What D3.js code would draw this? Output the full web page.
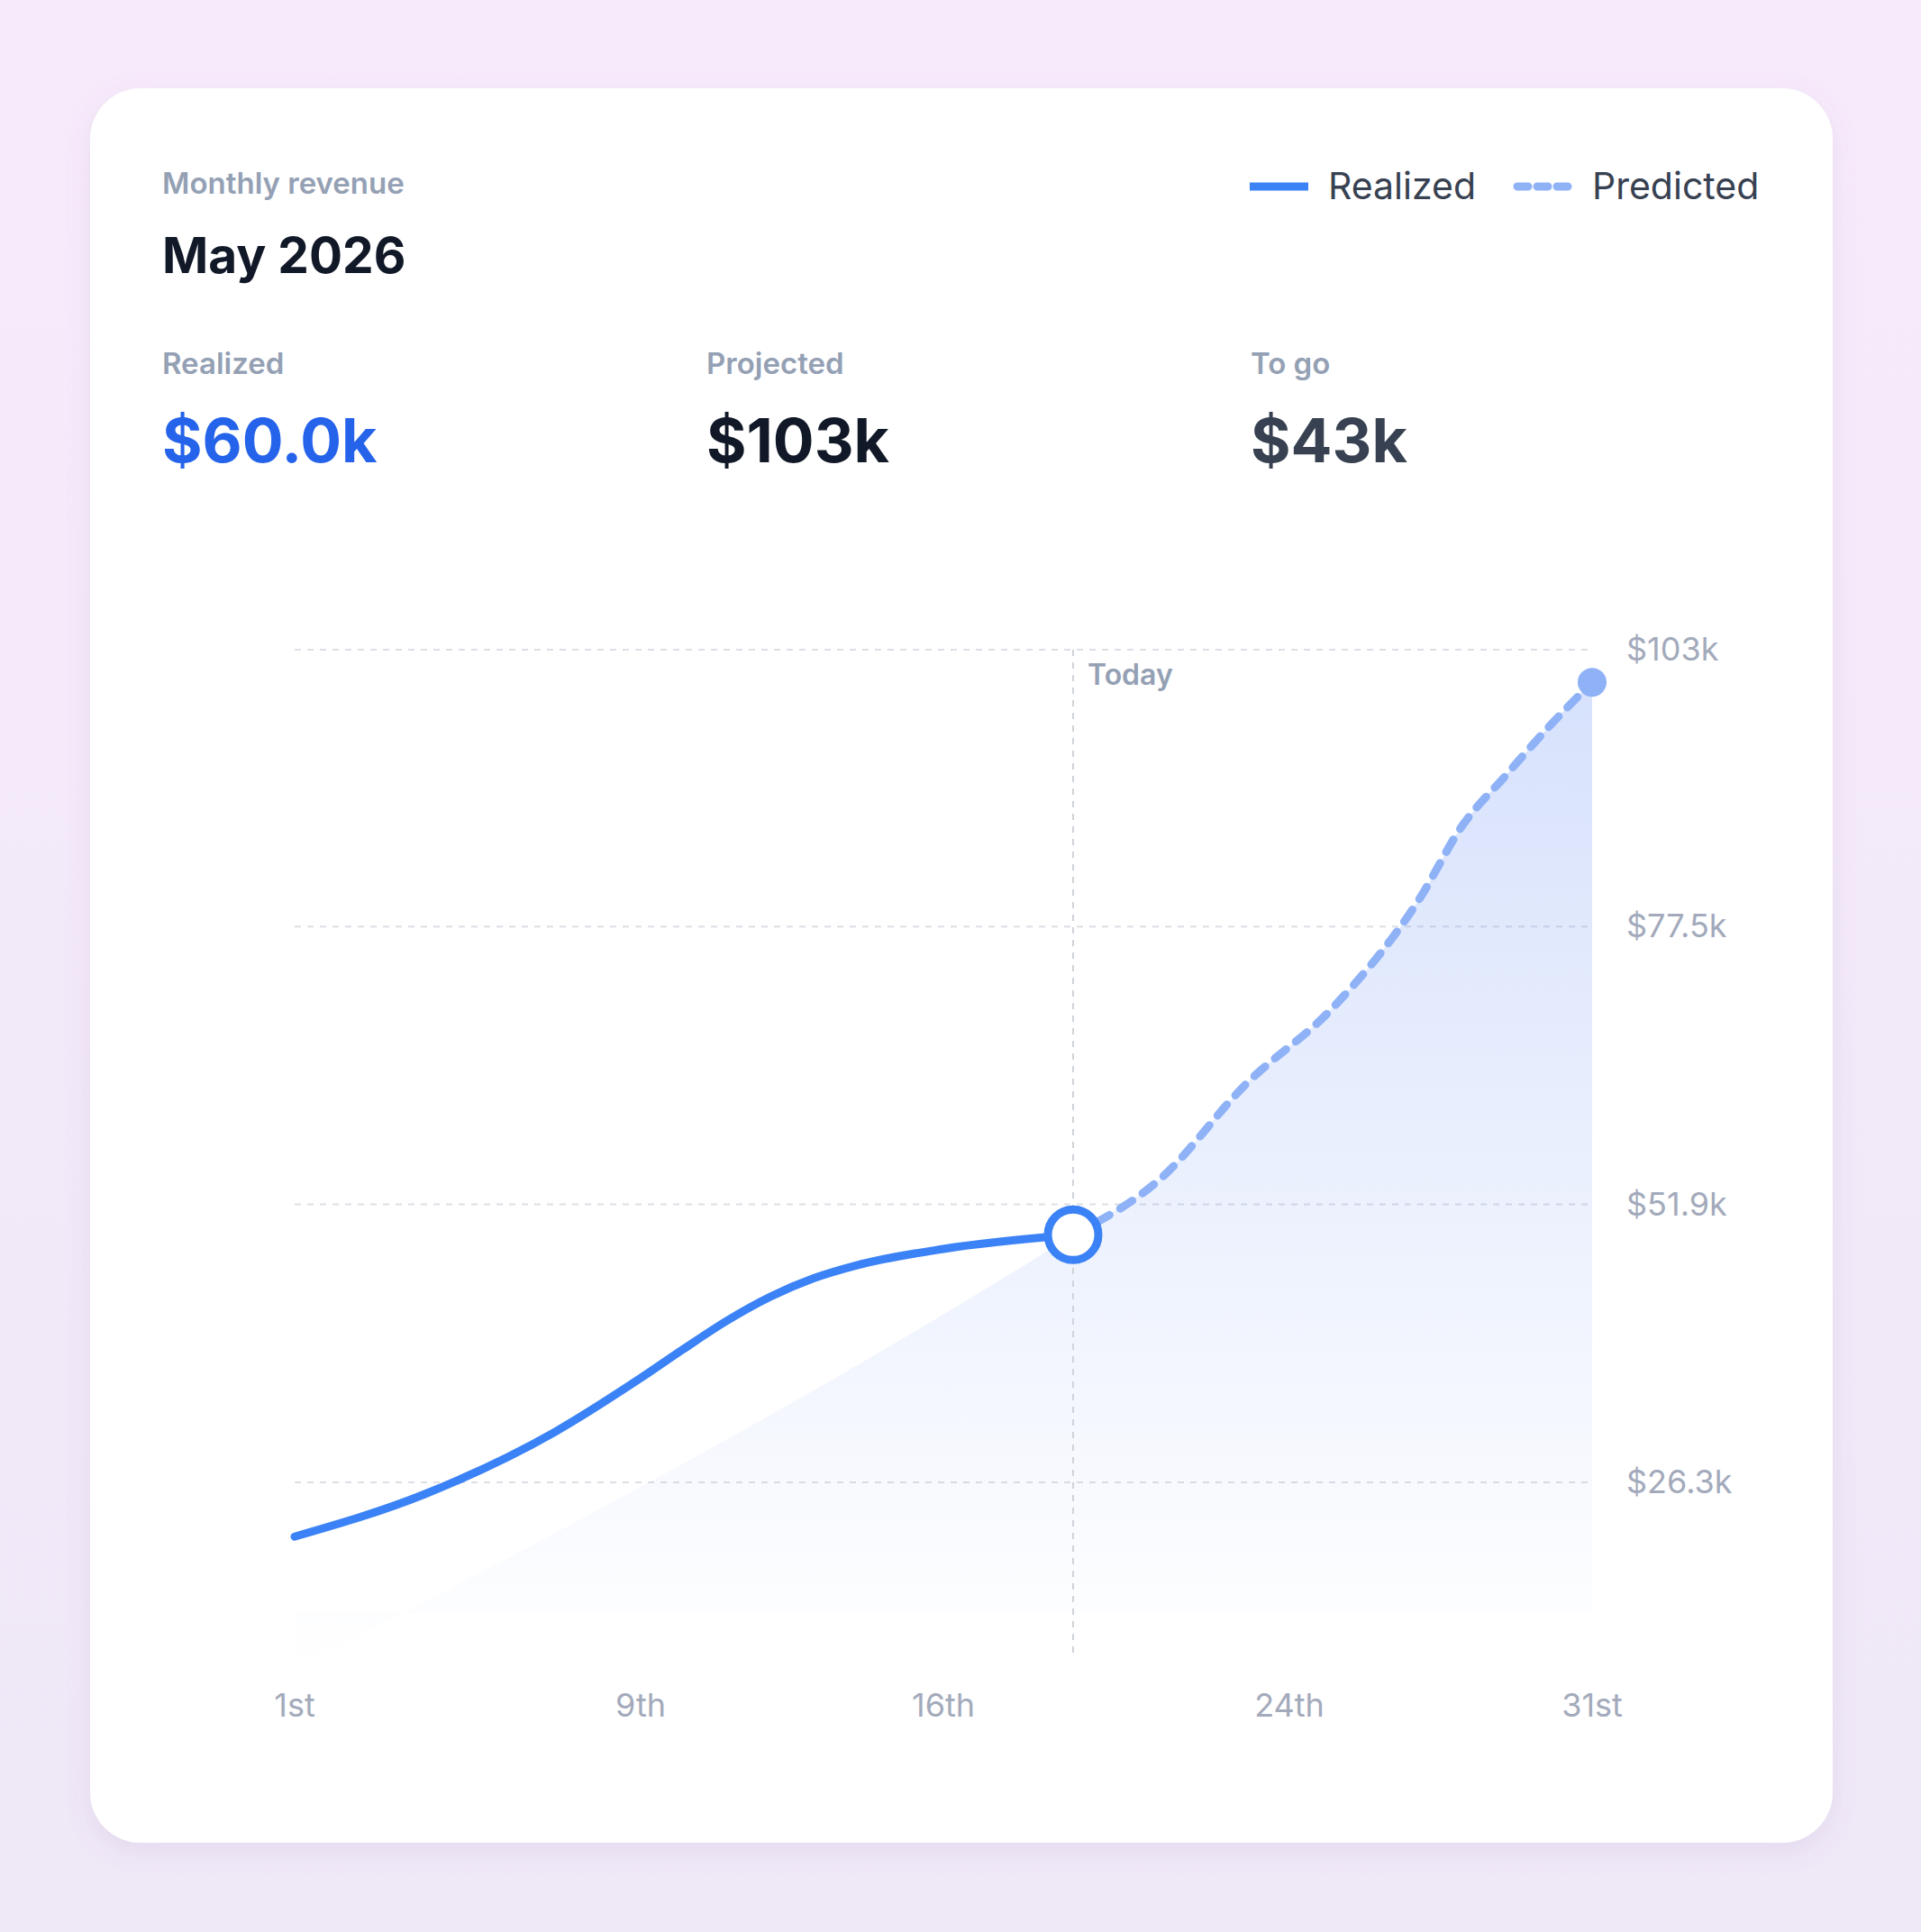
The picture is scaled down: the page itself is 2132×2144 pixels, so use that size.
<!DOCTYPE html>
<html><head><meta charset="utf-8">
<script src="https://cdn.jsdelivr.net/npm/d3@7"></script>
<style>
html,body{margin:0;padding:0;}
body{width:2132px;height:2144px;background:linear-gradient(180deg,#f7ebfb,#efe8f7);font-family:Inter,sans-serif;}
</style></head><body>
<svg id="c" width="2132" height="2144"></svg>
<script>
const realizedDays = [1,4,7,9,10,11,12,13,14,16,19];
const realizedVals = [21.3,25.2,30.9,35.9,38.6,41.2,43.4,45.1,46.3,47.8,49.1];
const predictedDays = [19,21,23,25,27,28,29,30,31];
const predictedVals = [49.1,54.2,63.0,70.0,80.0,86.8,91.4,95.9,100.0];
const areaDays = [1,19,21,23,25,27,28,29,30,31];
const areaVals = [9.0,49.1,54.2,63.0,70.0,80.0,86.8,91.4,95.9,100.0];
const yTicks = [26.3,51.9,77.5,103];
const yTickLabels = ["$26.3k","$51.9k","$77.5k","$103k"];
const xTicks = [1,9,16,24,31];
const xTickLabels = ["1st","9th","16th","24th","31st"];
const todayDay = 19;
const stats = [["Realized","$60.0k","#2563eb"],["Projected","$103k","#111827"],["To go","$43k","#374151"]];

const svg = d3.select("#c");
const defs = svg.append("defs");
const sh = defs.append("filter").attr("id","sh").attr("x","-10%").attr("y","-10%").attr("width","120%").attr("height","120%");
sh.append("feDropShadow").attr("dx",0).attr("dy",8).attr("stdDeviation",14).attr("flood-color","#8a6aa8").attr("flood-opacity",0.12);
const g = defs.append("linearGradient").attr("id","ag").attr("x1",0).attr("y1",0).attr("x2",0).attr("y2",1);
g.append("stop").attr("offset","0").attr("stop-color","#6f95f3").attr("stop-opacity",0.28);
g.append("stop").attr("offset","1").attr("stop-color","#6f95f3").attr("stop-opacity",0.0);

svg.append("rect").attr("x",100).attr("y",98).attr("width",1934).attr("height",1947).attr("rx",56).attr("fill","#fff").attr("filter","url(#sh)");

svg.append("text").attr("x",180).attr("y",215).attr("font-size",33).attr("font-weight",600).attr("fill","#94a0b4").text("Monthly revenue");
svg.append("text").attr("x",180).attr("y",303).attr("font-size",55).attr("font-weight",700).attr("fill","#111827").text("May 2026");

svg.append("line").attr("x1",1387).attr("x2",1452).attr("y1",207).attr("y2",207).attr("stroke","#3b82f6").attr("stroke-width",9);
svg.append("text").attr("x",1474).attr("y",221).attr("font-size",41).attr("fill","#374151").text("Realized");
svg.append("line").attr("x1",1684).attr("x2",1743).attr("y1",207).attr("y2",207).attr("stroke","#8fb2f7").attr("stroke-width",9).attr("stroke-linecap","round").attr("stroke-dasharray","12 10");
svg.append("text").attr("x",1767).attr("y",221).attr("font-size",41).attr("fill","#374151").text("Predicted");

stats.forEach((s,i)=>{
  const x=[180,784,1388][i];
  svg.append("text").attr("x",x).attr("y",415).attr("font-size",33).attr("font-weight",600).attr("fill","#94a0b4").text(s[0]);
  svg.append("text").attr("x",x).attr("y",513).attr("font-size",68).attr("font-weight",700).attr("fill",s[2]).text(s[1]);
});

const x = d3.scaleLinear().domain([1,31]).range([327,1767]);
const y = d3.scaleLinear().domain([26.3,103]).range([1645,721]);

const grid = svg.append("g");
yTicks.forEach((t,i)=>{
  grid.append("line").attr("x1",327).attr("x2",1767).attr("y1",y(t)).attr("y2",y(t)).attr("stroke","#dcdfe5").attr("stroke-width",2).attr("stroke-dasharray","7 7");
  svg.append("text").attr("x",1805).attr("y",y(t)+12).attr("font-size",36).attr("fill","#a3aabb").text(yTickLabels[i]);
});
xTicks.forEach((t,i)=>{
  svg.append("text").attr("x",x(t)).attr("y",1905).attr("text-anchor","middle").attr("font-size",36).attr("fill","#a3aabb").text(xTickLabels[i]);
});

const area = d3.area().x(d=>x(d[0])).y0(1790).y1(d=>y(d[1])).curve(d3.curveMonotoneX);
svg.append("path").datum(areaDays.map((d,i)=>[d,areaVals[i]])).attr("d",area).attr("fill","url(#ag)");

svg.append("line").attr("x1",x(todayDay)).attr("x2",x(todayDay)).attr("y1",721).attr("y2",1835).attr("stroke","#cfd3da").attr("stroke-width",2).attr("stroke-dasharray","7 7");
svg.append("text").attr("x",x(todayDay)+16).attr("y",760).attr("font-size",32).attr("font-weight",600).attr("fill","#94a0b4").text("Today");

const line = d3.line().x(d=>x(d[0])).y(d=>y(d[1])).curve(d3.curveMonotoneX);
svg.append("path").datum(predictedDays.map((d,i)=>[d,predictedVals[i]])).attr("d",line).attr("fill","none").attr("stroke","#8fb2f7").attr("stroke-width",9).attr("stroke-linecap","round").attr("stroke-dasharray","16 14");
svg.append("path").datum(realizedDays.map((d,i)=>[d,realizedVals[i]])).attr("d",line).attr("fill","none").attr("stroke","#3b82f6").attr("stroke-width",9).attr("stroke-linecap","round");

svg.append("circle").attr("cx",x(31)).attr("cy",y(predictedVals[predictedVals.length-1])).attr("r",16).attr("fill","#8fb2f7");
svg.append("circle").attr("cx",x(todayDay)).attr("cy",y(realizedVals[realizedVals.length-1])).attr("r",28).attr("fill","#fff").attr("stroke","#3b82f6").attr("stroke-width",9);
</script></body></html>
